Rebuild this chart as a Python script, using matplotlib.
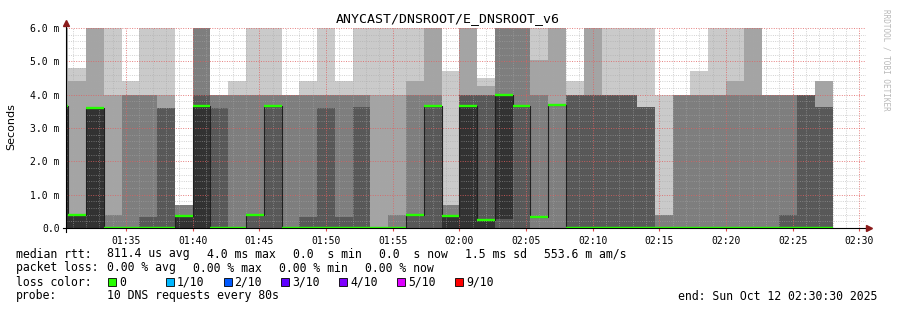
import matplotlib
matplotlib.use("Agg")
import matplotlib.pyplot as plt
import numpy as np

W, H = 897, 310
title = "ANYCAST/DNSROOT/E_DNSROOT_v6"

# time axis in seconds from 01:30:30 (graph start) to 02:30:30 (end)
graph_len = 3600
probe_step = 80
first_edge = -70          # start of the partial step that is cut at the left edge
tick_labels = ["01:35", "01:40", "01:45", "01:50", "01:55", "02:00",
               "02:05", "02:10", "02:15", "02:20", "02:25", "02:30"]
tick_pos = [270, 570, 870, 1170, 1470, 1770, 2070, 2370, 2670, 2970, 3270, 3570]

# 10 sorted pings per step in ms (6.5 = above the top of the graph)
pings = [
    [0, 0, 0, 0, 0, 3.65, 3.65, 3.65, 6.5, 6.5],
    [0, 0, 0, 0, 0, 0.4, 0.4, 0.4, 4.4, 4.8],
    [0, 0, 0, 0, 0, 3.6, 3.6, 3.6, 6.5, 6.5],
    [0, 0, 0, 0, 0, 0, 0, 0.4, 4.0, 6.5],
    [0, 0, 0, 0, 0, 0, 0, 4.0, 4.0, 4.4],
    [0, 0, 0, 0, 0, 0, 0.34, 4.0, 4.0, 6.5],
    [0, 0, 0, 0, 0, 0, 3.6, 3.6, 4.0, 6.5],
    [0, 0, 0, 0, 0, 0.35, 0.35, 0.7, 0.7, 0.7],
    [0, 0, 0, 0, 0, 3.65, 4.0, 6.5, 6.5, 6.5],
    [0, 0, 0, 0, 0, 0, 3.6, 4.0, 4.0, 4.0],
    [0, 0, 0, 0, 0, 0, 0, 4.0, 4.0, 4.4],
    [0, 0, 0, 0, 0.4, 0.4, 0.4, 4.0, 4.0, 6.5],
    [0, 0, 0, 0, 3.65, 3.65, 3.65, 4.0, 4.0, 6.5],
    [0, 0, 0, 0, 0, 0, 0, 4.0, 4.0, 4.0],
    [0, 0, 0, 0, 0, 0, 0.34, 4.0, 4.0, 4.4],
    [0, 0, 0, 0, 0, 0, 3.6, 4.0, 4.0, 6.5],
    [0, 0, 0, 0, 0, 0, 0.34, 4.0, 4.0, 4.4],
    [0, 0, 0, 0, 0, 0, 3.63, 4.0, 4.0, 6.5],
    [0, 0, 0, 0, 0, 0, 0, 0, 4.0, 6.5],
    [0, 0, 0, 0, 0, 0, 0, 0.4, 4.0, 6.5],
    [0, 0, 0, 0, 0.4, 0.4, 0.4, 4.0, 4.4, 6.5],
    [0, 0, 0, 0, 3.65, 3.65, 3.65, 4.0, 6.5, 6.5],
    [0, 0, 0, 0, 0, 0.35, 0.35, 0.7, 0.7, 4.7],
    [0, 0, 0, 0, 0, 3.65, 4.0, 4.0, 6.5, 6.5],
    [0, 0, 0, 0, 0, 0.25, 4.0, 4.0, 4.25, 4.5],
    [0, 0, 0, 0, 0.27, 4.0, 4.0, 6.5, 6.5, 6.5],
    [0, 0, 0, 0, 3.65, 3.65, 3.65, 6.5, 6.5, 6.5],
    [0, 0, 0, 0.34, 0.34, 0.34, 0.34, 4.0, 5.05, 6.5],
    [0, 0, 0, 3.7, 3.7, 3.7, 3.7, 3.7, 6.5, 6.5],
    [0, 0, 0, 0, 0, 0, 4.0, 4.0, 4.0, 4.4],
    [0, 0, 0, 0, 0, 0, 4.0, 4.0, 6.5, 6.5],
    [0, 0, 0, 0, 0, 0, 4.0, 4.0, 4.0, 6.5],
    [0, 0, 0, 0, 0, 0, 4.0, 4.0, 4.0, 6.5],
    [0, 0, 0, 0, 0, 0, 3.63, 3.63, 3.63, 6.5],
    [0, 0, 0, 0, 0, 0, 0, 0.4, 0.4, 4.0],
    [0, 0, 0, 0, 0, 0, 0, 4.0, 4.0, 4.0],
    [0, 0, 0, 0, 0, 0, 0, 4.0, 4.0, 4.7],
    [0, 0, 0, 0, 0, 0, 0, 4.0, 4.0, 6.5],
    [0, 0, 0, 0, 0, 0, 0, 4.0, 4.4, 6.5],
    [0, 0, 0, 0, 0, 0, 0, 4.0, 6.5, 6.5],
    [0, 0, 0, 0, 0, 0, 0, 4.0, 4.0, 4.0],
    [0, 0, 0, 0, 0, 0, 0.4, 4.0, 4.0, 4.0],
    [0, 0, 0, 0, 0, 0, 4.0, 4.0, 4.0, 4.0],
    [0, 0, 0, 0, 0, 0, 3.63, 3.63, 4.4, 4.4],
]
medians = [3.65, 0.4, 3.6, 0, 0, 0, 0, 0.35, 3.65, 0, 0, 0.4, 3.65, 0, 0, 0,
           0, 0, 0, 0, 0.4, 3.65, 0.35, 3.65, 0.25, 4.0, 3.65, 0.34, 3.7,
           0, 0, 0, 0, 0, 0, 0, 0, 0, 0, 0, 0, 0, 0, 0]

smoke_colors = ["#cacaca", "#a4a4a4", "#7e7e7e", "#585858", "#323232"]
loss_labels = ["0", "1/10", "2/10", "3/10", "4/10", "5/10", "9/10"]
loss_colors = ["#26ff00", "#00b8ff", "#0059ff", "#5e00ff", "#7e00ff", "#dd00ff", "#ff0000"]

stats_rtt = ["median rtt:", "811.4 us avg", "4.0 ms max", "0.0  s min",
             "0.0  s now", "1.5 ms sd", "553.6 m am/s"]
stats_loss = ["packet loss:", "0.00 % avg", "0.00 % max", "0.00 % min", "0.00 % now"]
probe_text = "10 DNS requests every 80s"
end_text = "end: Sun Oct 12 02:30:30 2025"

mono = "DejaVu Sans Mono"

fig = plt.figure(figsize=(W / 100, H / 100), dpi=100)
ax = fig.add_axes([66 / W, (H - 228) / H, 800 / W, 200 / H])
ax.set_xlim(0, graph_len)
ax.set_ylim(0, 6.0)
for s in ax.spines.values():
    s.set_visible(False)

# smoke: band i goes from ping i to ping (n-1-i)
p = np.array(pings)
edges = first_edge + probe_step * np.arange(len(pings) + 1)
for i, col in enumerate(smoke_colors):
    lo = np.append(p[:, i], p[-1, i])
    hi = np.append(p[:, 9 - i], p[-1, 9 - i])
    ax.fill_between(edges, lo, hi, step="post", color=col, lw=0, zorder=1)

# grid on top of the smoke (dotted, like rrdtool)
dot = (0, (1, 1.5))
minor_kw = dict(color="#a8a8a8", alpha=0.6, lw=0.65, ls=dot, zorder=3)
major_kw = dict(color="#e06060", alpha=0.8, lw=0.7, ls=dot, zorder=3)
for t in range(30, graph_len, 60):
    ax.axvline(t, **(major_kw if (t - 270) % 300 == 0 else minor_kw))
for v in np.arange(0.2, 6.01, 0.2):
    ax.axhline(v, **(major_kw if abs(v - round(v)) < 1e-6 else minor_kw))

# median line and loss coloured median
med = np.array(medians)
ax.step(edges, np.append(med, med[-1]), where="post", color="#202020", lw=0.8, zorder=4)
ax.hlines(med, edges[:-1], edges[1:], color=loss_colors[0], lw=1.7, zorder=5)

# axes with arrows
ax.plot([-13.5, 3609], [0, 0], color="black", lw=0.8, clip_on=False, zorder=6)
ax.plot([0, 0], [-0.12, 6.1], color="black", lw=0.8, clip_on=False, zorder=6)
ax.plot([3614], [0], marker=">", ms=4.5, color="#8b1a1a", clip_on=False, zorder=7)
ax.plot([0], [6.15], marker="^", ms=4.5, color="#8b1a1a", clip_on=False, zorder=7)

ax.set_xticks(tick_pos)
ax.set_xticklabels(tick_labels, fontfamily=mono, fontsize=7)
ax.set_yticks(range(7))
ax.set_yticklabels(["0.0"] + ["%d.0 m" % v for v in range(1, 7)], fontfamily=mono, fontsize=7)
ax.tick_params(axis="x", length=2, pad=3.5, color="#de5050")
ax.tick_params(axis="y", length=0, pad=4.5)

fig.text(448 / W, 1 - 19 / H, title, ha="center", va="center", fontfamily=mono, fontsize=9.5)
fig.text(11 / W, 1 - 127 / H, "Seconds", rotation=90, ha="center", va="center", fontsize=8)
fig.text(886 / W, 1 - 60 / H, "RRDTOOL / TOBI OETIKER", rotation=270, ha="center",
         va="center", fontfamily=mono, fontsize=5.5, color="#b8b8b8")

# legend block
def put(x, y, s):
    fig.text(x / W, 1 - y / H, s, ha="left", va="center", fontfamily=mono, fontsize=8.3)

rtt_x = [16, 107, 207, 293, 379, 465, 544]
for x, s in zip(rtt_x, stats_rtt):
    put(x, 254, s)
loss_x = [16, 107, 193, 279, 365]
for x, s in zip(loss_x, stats_loss):
    put(x, 268, s)
put(16, 282, "loss color:")
for k, (lab, col) in enumerate(zip(loss_labels, loss_colors)):
    bx = 108 + 57.8 * k
    fig.patches.append(plt.Rectangle((bx / W, 1 - 286 / H), 8 / W, 8 / H, transform=fig.transFigure,
                                     facecolor=col, edgecolor="black", lw=0.6))
    put(bx + 11, 282, lab)
put(16, 296, "probe:")
put(107, 296, probe_text)
put(678, 296, end_text)

fig.savefig("out.png", dpi=100)
